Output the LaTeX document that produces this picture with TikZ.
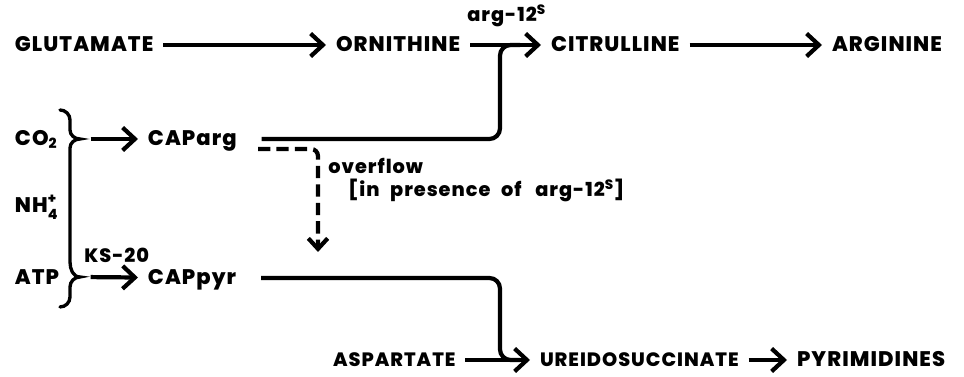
\documentclass[tikz,border=0pt]{standalone}
\usepackage{fontspec}
\setmainfont{Poppins}[BoldFont={Poppins ExtraBold}, BoldFeatures={LetterSpace=5}]
\usetikzlibrary{positioning,arrows.meta,calc}

\tikzset{
  met/.style={font=\bfseries\fontsize{12}{14}\selectfont, inner sep=0pt,
    outer xsep=0.2cm, text height=0.7em, text depth=0pt, anchor=west},
  lowmet/.style={met, font=\bfseries\fontsize{11}{13}\selectfont},
  enz/.style={font=\bfseries\fontsize{11}{13}\selectfont, inner sep=0pt, anchor=west},
  flow/.style={line width=2.4pt, -{Straight Barb[length=7pt,width=13pt]}},
  feed/.style={line width=2.4pt, rounded corners=6pt},
  spill/.style={line width=2.4pt, dash pattern=on 7pt off 3.5pt, rounded corners=4pt,
    -{Straight Barb[length=6pt,width=11pt]}},
  brace/.style={line width=1.9pt, line cap=round},
}

\begin{document}
\begin{tikzpicture}[x=0.02cm, y=-0.02cm]
  \useasboundingbox (0,0) rectangle (964,377);

  % arginine branch
  \node[met] (glu) at (5,45) {GLUTAMATE};
  \node[met] (orn) at (326,45) {ORNITHINE};
  \node[met] (cit) at (541,45) {CITRULLINE};
  \node[met] (arg) at (822,45) {ARGININE};
  \node[enz] (argS) at (467,16) {arg-12\textsuperscript{S}};

  % inputs
  \node[met] (co2) at (5,139) {CO\textsubscript{2}};
  \node[met] (nh4) at (5,206) {NH{\fontsize{8}{6.5}\selectfont\raisebox{-0.9ex}{\shortstack[l]{+\\4}}}};
  \node[met] (atp) at (5,278) {ATP};
  \node[enz] (ks) at (84,255) {KS-20};

  \node[met] (caparg) at (138,139) {CAParg};
  \node[met] (cappyr) at (138,278) {CAPpyr};

  % pyrimidine branch
  \node[lowmet] (asp) at (323,360) {ASPARTATE};
  \node[lowmet] (ureido) at (530,360) {UREIDOSUCCINATE};
  \node[met] (pyr) at (787,360) {PYRIMIDINES};

  \node[enz] (ovf) at (328,166) {overflow};
  \node[enz] (pres) at (348,190) {\spaceskip=0.55em [in presence of \,arg-12\textsuperscript{S}]};

  % brace
  \coordinate (b1) at (80,139);
  \coordinate (b2) at (80,277);
  \draw[brace] (60,110) to[out=0,in=90] (70,120) -- (70,130) to[out=-90,in=180] (b1)
    to[out=180,in=90] (70,148) -- (70,262) to[out=-90,in=180] (b2)
    to[out=180,in=90] (70,287) -- (70,297) to[out=-90,in=0] (60,307);

  % arrows
  \draw[flow] (glu) -- (orn);
  \draw[flow] (orn) -- (cit);
  \draw[flow] (cit) -- (arg);
  \draw[flow, shorten <=6pt] (b1) -- (caparg);
  \draw[flow, shorten <=6pt] (b2) -- (cappyr);
  \draw[flow] (asp) -- (ureido);
  \draw[flow] (ureido) -- (pyr);

  % carbamyl phosphate feeds
  \coordinate (m1) at (500,45);
  \coordinate (m2) at (520,45);
  \coordinate (m3) at (500,360);
  \coordinate (m4) at (520,360);
  \draw[feed, shorten <=0.3cm] (caparg) -| (m1) -- (m2);
  \draw[feed, shorten <=0.3cm] (cappyr) -| (m3) -- (m4);

  \coordinate (d0) at (258,149);
  \coordinate (d1) at (318,252);
  \draw[spill] (d0) -| (d1);
\end{tikzpicture}
\end{document}
